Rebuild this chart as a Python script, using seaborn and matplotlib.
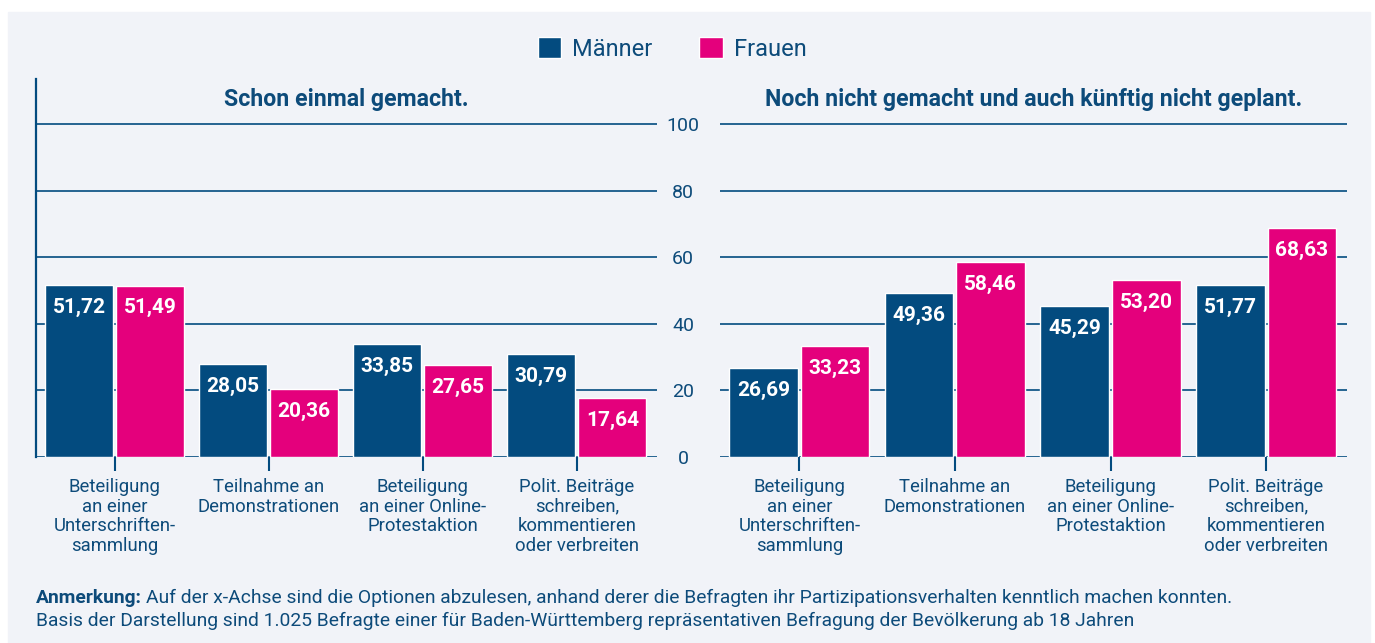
import pandas as pd
import matplotlib.pyplot as plt
import matplotlib.transforms as mtransforms
import seaborn as sns
from matplotlib.patches import Patch, Rectangle

# Daten
kategorien = [
    'Beteiligung\nan einer\nUnterschriften-\nsammlung',
    'Teilnahme an\nDemonstrationen',
    'Beteiligung\nan einer Online-\nProtestaktion',
    'Polit. Beiträge\nschreiben,\nkommentieren\noder verbreiten',
]
gruppen = ['Männer', 'Frauen']
gemacht_maenner = [51.72, 28.05, 33.85, 30.79]
gemacht_frauen = [51.49, 20.36, 27.65, 17.64]
nicht_geplant_maenner = [26.69, 49.36, 45.29, 51.77]
nicht_geplant_frauen = [33.23, 58.46, 53.20, 68.63]
y_ticks = [0, 20, 40, 60, 80, 100]

titel_links = 'Schon einmal gemacht.'
titel_rechts = 'Noch nicht gemacht und auch künftig nicht geplant.'

NAVY = '#034b7f'
PINK = '#e4007c'
TEXT = '#0d4b7a'
BG = '#f1f3f8'


def long_df(m, f):
    return pd.DataFrame({
        'Kategorie': kategorien * 2,
        'Gruppe': ['Männer'] * len(m) + ['Frauen'] * len(f),
        'Wert': list(m) + list(f),
    })


sns.set_style('white')
plt.rcParams['font.family'] = ['Roboto', 'DejaVu Sans']

fig = plt.figure(figsize=(13.75, 6.43), dpi=100, facecolor='white')
fig.patches.append(Rectangle((8 / 1375, 0), 1362 / 1375, 631 / 643,
                             transform=fig.transFigure, color=BG, zorder=-10))

ax1 = fig.add_axes([36 / 1375, 1 - 457 / 643, 621 / 1375, 378 / 643])
ax2 = fig.add_axes([720 / 1375, 1 - 457 / 643, 627 / 1375, 378 / 643])

panels = [
    (ax1, long_df(gemacht_maenner, gemacht_frauen), titel_links),
    (ax2, long_df(nicht_geplant_maenner, nicht_geplant_frauen), titel_rechts),
]

for ax, df, titel in panels:
    ax.set_facecolor('none')
    sns.barplot(data=df, x='Kategorie', y='Wert', hue='Gruppe', hue_order=gruppen,
                palette=[NAVY, PINK], saturation=1, width=0.92, gap=0.04,
                legend=False, ax=ax, zorder=3)
    for cont in ax.containers:
        labels = [f'{b.get_height():.2f}'.replace('.', ',') for b in cont]
        ax.bar_label(cont, labels=labels, padding=-23, color='white',
                     fontsize=15, fontweight='bold', zorder=4)
    ax.set_ylim(0, 113.5)
    ax.set_xlim(-0.51, 3.52)
    ax.set_yticks(y_ticks)
    for y in y_ticks:
        ax.axhline(y, color=NAVY, lw=1.2, zorder=1)
    ax.set_xlabel('')
    ax.set_ylabel('')
    ax.set_xticks(range(len(kategorien)))
    ax.set_xticklabels(kategorien, fontsize=13.3, color=TEXT, linespacing=1.13)
    ax.tick_params(axis='x', length=10, width=1.5, color=NAVY, direction='out',
                   pad=5, bottom=True)
    for s in ['top', 'right', 'bottom', 'left']:
        ax.spines[s].set_visible(False)
    trans = mtransforms.blended_transform_factory(ax.transAxes, ax.transData)
    ax.text(0.5, 107.3, titel, transform=trans, ha='center', va='center',
            fontsize=16.7, fontweight='bold', color=TEXT)

ax1.spines['left'].set_visible(True)
ax1.spines['left'].set_color(NAVY)
ax1.spines['left'].set_linewidth(1.6)
ax1.tick_params(axis='y', left=False, labelleft=False)

ax2.tick_params(axis='y', left=False, labelleft=True, labelsize=14,
                labelcolor=TEXT, pad=23)
for lbl in ax2.get_yticklabels():
    lbl.set_ha('center')

# Legende
handles = [Patch(facecolor=NAVY, label='Männer'), Patch(facecolor=PINK, label='Frauen')]
fig.legend(handles=handles, loc='center', bbox_to_anchor=(672 / 1375, 1 - 49 / 643),
           ncol=2, frameon=False, fontsize=17, labelcolor=TEXT, handlelength=1.0,
           handleheight=1.0, handletextpad=0.45, columnspacing=2.0)

# Anmerkung
fig.canvas.draw()
r = fig.canvas.get_renderer()
t_bold = fig.text(36 / 1375, 1 - 598 / 643, 'Anmerkung:', fontsize=13.9,
                  fontweight='bold', color=TEXT, va='center')
bb = t_bold.get_window_extent(r)
fig.text((bb.x1 + 4) / 1375, 1 - 598 / 643,
         'Auf der x-Achse sind die Optionen abzulesen, anhand derer die Befragten '
         'ihr Partizipationsverhalten kenntlich machen konnten.',
         fontsize=13.9, color=TEXT, va='center')
fig.text(36 / 1375, 1 - 621 / 643,
         'Basis der Darstellung sind 1.025 Befragte einer für Baden-Württemberg '
         'repräsentativen Befragung der Bevölkerung ab 18 Jahren',
         fontsize=13.9, color=TEXT, va='center')

fig.savefig('out.png', dpi=100, facecolor=fig.get_facecolor())
